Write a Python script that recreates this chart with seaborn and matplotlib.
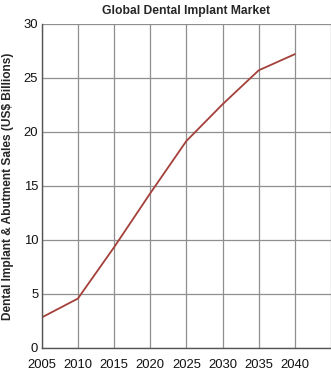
import matplotlib
matplotlib.use("Agg")
import matplotlib.pyplot as plt
import seaborn as sns
import pandas as pd

years = [2005, 2010, 2015, 2020, 2025, 2030, 2035, 2040]
sales = [2.8, 4.55, 9.3, 14.3, 19.15, 22.55, 25.7, 27.2]
x_ticks = [2005, 2010, 2015, 2020, 2025, 2030, 2035, 2040]
y_ticks = [0, 5, 10, 15, 20, 25, 30]

sns.set_style("white")
plt.rcParams['font.family'] = ['Liberation Sans', 'DejaVu Sans']

df = pd.DataFrame({"year": years, "sales": sales})

fig = plt.figure(figsize=(3.31, 3.70), dpi=100)
ax = fig.add_axes([0.126, 0.0603, 0.874, 0.875])
sns.lineplot(data=df, x="year", y="sales", ax=ax, color="#a3403a", linewidth=1.3)

ax.set_xlim(2005, 2045)
ax.set_ylim(0, 30)
ax.set_xticks(x_ticks)
ax.set_yticks(y_ticks)
ax.set_xticks([2045], minor=True)
ax.grid(True, which="both", color="#8f8f8f", linewidth=0.9)
ax.set_axisbelow(True)
for s in ["top", "right"]:
    ax.spines[s].set_visible(False)
for s in ["left", "bottom"]:
    ax.spines[s].set_color("#555555")
    ax.spines[s].set_linewidth(1.0)
ax.tick_params(axis="both", which="both", length=0, labelsize=9.4, colors="#111111")
ax.tick_params(axis="x", pad=8.5)
ax.tick_params(axis="y", pad=2.5)
ax.set_xlabel("")
ax.set_ylabel("Dental Implant & Abutment Sales (US$ Billions)", fontsize=8.6,
              fontweight="bold", labelpad=7)
ax.set_title("Global Dental Implant Market", fontsize=8.7, fontweight="bold", pad=7)

fig.savefig("out.png", dpi=100)
